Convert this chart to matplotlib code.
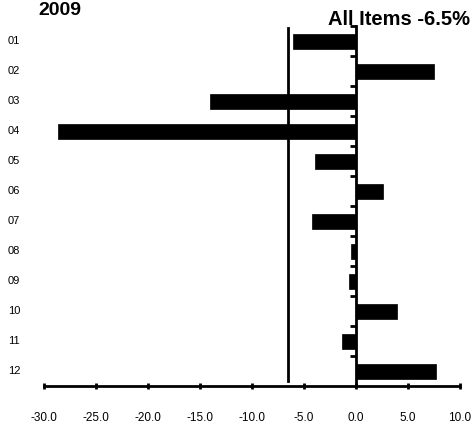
import matplotlib
matplotlib.use("Agg")
import matplotlib.pyplot as plt
import numpy as np

plt.rcParams['font.family'] = ['Liberation Sans', 'DejaVu Sans']

categories = ["01", "02", "03", "04", "05", "06", "07", "08", "09", "10", "11", "12"]
values = [-6.1, 7.5, -14.0, -28.7, -3.9, 2.6, -4.2, -0.5, -0.7, 3.9, -1.3, 7.7]
all_items = -6.5
xticks = [-30, -25, -20, -15, -10, -5, 0, 5, 10]
title_left = "2009"
title_right = "All Items -6.5%"

fig = plt.figure(figsize=(4.73, 4.23), dpi=100)
W, H = 473, 423
ax = fig.add_axes([44 / W, (H - 386) / H, 416 / W, 360 / H])

ypos = np.arange(1, len(categories) + 1)
ax.barh(ypos, values, height=0.5, color='black', edgecolor='black', linewidth=0.5)

ax.set_xlim(-30, 10)
ax.set_ylim(12.5, 0.5)

for s in ['top', 'right']:
    ax.spines[s].set_visible(False)
ax.spines['left'].set_position(('data', 0))
ax.spines['left'].set_linewidth(2)
ax.spines['bottom'].set_linewidth(2)

ax.set_yticks(ypos)
ax.set_yticklabels([])
ax.tick_params(axis='y', which='major', length=0)
ax.set_yticks(np.arange(0.5, 12.5, 1.0), minor=True)
ax.tick_params(axis='y', which='minor', length=4, width=2, direction='out')

ax.set_xticks(xticks)
ax.set_xticklabels([f"{v:.1f}" for v in xticks], fontsize=8.5)
ax.tick_params(axis='x', which='major', length=4, width=2, direction='inout', pad=17)

trans = matplotlib.transforms.blended_transform_factory(fig.transFigure, ax.transData)
for y, c in zip(ypos, categories):
    ax.text(8 / W, y, c, transform=trans, fontsize=8, ha='left', va='center')

ax.axvline(all_items, ymin=(386 - 381) / 360, ymax=(386 - 28) / 360, color='black', linewidth=2)

fig.text(38 / W, 1 - 15 / H, title_left, fontsize=14, fontweight='bold', ha='left', va='baseline')
fig.text(470 / W, 1 - 25 / H, title_right, fontsize=14.5, fontweight='bold', ha='right', va='baseline')

fig.savefig("out.png", dpi=100)
